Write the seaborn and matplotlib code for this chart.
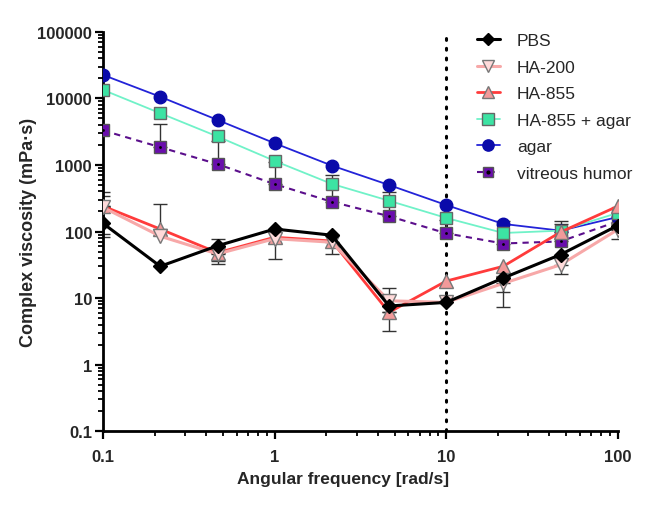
import numpy as np
import pandas as pd
import matplotlib
matplotlib.use("Agg")
import matplotlib.pyplot as plt
import seaborn as sns
from matplotlib.lines import Line2D
from matplotlib.ticker import FixedLocator, FixedFormatter, LogLocator, NullFormatter

nan = np.nan

# ---- data ----
freq = [0.1, 0.215, 0.464, 1, 2.15, 4.64, 10, 21.5, 46.4, 100]

pbs = [132, 30, 61, 109, 88, 7.6, 8.6, 20, 45, 123]
ha200 = [230, 85, 46, 78, 69, 9.1, 8.6, 16.6, 31.6, 107]
ha855 = [240, 109, 48, 82, 72, 6.1, 18, 30, 98, 240]
ha855_agar = [13400, 6000, 2680, 1150, 520, 290, 160, 95, 103, 190]
agar = [22500, 10600, 4750, 2120, 980, 500, 250, 130, 103, 165]
vitreous = [3300, 1850, 1030, 515, 280, 170, 94, 66, 71, 142]

# error bar ends (absolute values), nan = not shown
pbs_lo = [nan, nan, nan, nan, nan, nan, nan, 12.3, nan, nan]
pbs_hi = [nan] * 10
ha200_lo = [83, nan, 32, 39, 46, nan, nan, 7.3, 23, 77]
ha200_hi = [345, nan, nan, nan, nan, nan, nan, nan, nan, nan]
ha855_lo = [92, nan, 36, nan, nan, 3.2, nan, nan, nan, nan]
ha855_hi = [390, 260, 77, nan, nan, 14.1, nan, nan, 130, nan]
vit_lo = [nan] * 10
vit_hi = [nan, 4150, 2330, 1100, 700, 390, 150, 145, 145, nan]

labels = ["PBS", "HA-200", "HA-855", "HA-855 + agar", "agar", "vitreous humor"]
y_ticks = [0.1, 1, 10, 100, 1000, 10000, 100000]
y_ticklabels = ["0.1", "1", "10", "100", "1000", "10000", "100000"]
x_ticks = [0.1, 1, 10, 100]
x_ticklabels = ["0.1", "1", "10", "100"]

# ---- style ----
sns.set_style("ticks")
plt.rcParams["font.family"] = ["Liberation Sans", "DejaVu Sans"]

fig = plt.figure(figsize=(6.7, 5.06), dpi=100)
ax = fig.add_axes([0.154, 0.146, 0.768, 0.789])

ax.set_xscale("log")
ax.set_yscale("log")

styles = {
    "vitreous humor": dict(color="#5B0F8C", lw=1.5, ls=(0, (3, 2.5)), marker="s",
                           mfc="#6A0DAD", mec="#555555", ms=8.5),
    "agar": dict(color="#2323D8", lw=1.3, ls="-", marker="o", mfc="#0A0AAA",
                 mec="#0A0AAA", ms=9),
    "HA-855 + agar": dict(color="#70F2C8", lw=1.3, ls="-", marker="s",
                          mfc="#3CE3A3", mec="#666666", ms=9),
    "HA-855": dict(color="#FF3B3B", lw=2.0, ls="-", marker="^", mfc="#F29A9A",
                   mec="#777777", ms=10),
    "HA-200": dict(color="#F7A8A8", lw=2.2, ls="-", marker="v", mfc="#FFDADA",
                   mec="#777777", ms=10),
    "PBS": dict(color="black", lw=2.2, ls="-", marker="D", mfc="black",
                mec="black", ms=7),
}
series = {
    "PBS": (pbs, pbs_lo, pbs_hi),
    "HA-200": (ha200, ha200_lo, ha200_hi),
    "HA-855": (ha855, ha855_lo, ha855_hi),
    "HA-855 + agar": (ha855_agar, [nan] * 10, [nan] * 10),
    "agar": (agar, [nan] * 10, [nan] * 10),
    "vitreous humor": (vitreous, vit_lo, vit_hi),
}

# error bars
for name, (vals, lo, hi) in series.items():
    for f, v, l, h in zip(freq, vals, lo, hi):
        if not np.isnan(l):
            ax.errorbar([f], [v], yerr=[[v - l], [0]], fmt="none", ecolor="#333333",
                        elinewidth=1.0, capsize=5, capthick=1.0, zorder=2)
        if not np.isnan(h):
            ax.errorbar([f], [v], yerr=[[0], [h - v]], fmt="none", ecolor="#333333",
                        elinewidth=1.0, capsize=5, capthick=1.0, zorder=2)

order = ["vitreous humor", "agar", "HA-855 + agar", "HA-855", "HA-200", "PBS"]
for i, name in enumerate(order):
    st = styles[name]
    df = pd.DataFrame({"freq": freq, "val": series[name][0]})
    sns.lineplot(data=df, x="freq", y="val", ax=ax, estimator=None, sort=False,
                 color=st["color"], linewidth=st["lw"], linestyle=st["ls"],
                 marker=st["marker"], markerfacecolor=st["mfc"],
                 markeredgecolor=st["mec"], markersize=st["ms"],
                 markeredgewidth=1.0, zorder=3 + i)
    if name == "vitreous humor":
        sns.scatterplot(data=df, x="freq", y="val", ax=ax, color="black", s=4,
                        linewidth=0, zorder=3.5)

# vertical dotted line at 10 rad/s
ax.axvline(10, color="black", lw=2.2, ls=(0, (0.6, 2.6)),
           dash_capstyle="round", zorder=1)

ax.set_xlim(0.1, 100)
ax.set_ylim(0.1, 100000)
ax.yaxis.set_major_locator(FixedLocator(y_ticks))
ax.yaxis.set_major_formatter(FixedFormatter(y_ticklabels))
ax.xaxis.set_major_locator(FixedLocator(x_ticks))
ax.xaxis.set_major_formatter(FixedFormatter(x_ticklabels))
ax.yaxis.set_minor_locator(LogLocator(base=10, subs=np.arange(2, 10), numticks=20))
ax.xaxis.set_minor_locator(LogLocator(base=10, subs=np.arange(2, 10), numticks=20))
ax.yaxis.set_minor_formatter(NullFormatter())
ax.xaxis.set_minor_formatter(NullFormatter())

for s in ["top", "right"]:
    ax.spines[s].set_visible(False)
for s in ["left", "bottom"]:
    ax.spines[s].set_linewidth(2)
    ax.spines[s].set_color("black")
ax.tick_params(which="major", length=6, width=1.6, color="black", labelsize=12)
ax.tick_params(axis="x", which="major", pad=7)
ax.tick_params(axis="y", which="major", pad=2)
ax.tick_params(which="minor", length=3.5, width=1.3, color="black")
for lab in ax.get_xticklabels() + ax.get_yticklabels():
    lab.set_fontweight("bold")

ax.set_xlabel("Angular frequency [rad/s]", fontsize=12.5, fontweight="bold")
ax.set_ylabel("Complex viscosity (mPa·s)", fontsize=13, fontweight="bold")
ax.xaxis.set_label_coords(0.466, -0.10)
ax.yaxis.set_label_coords(-0.128, 0.5)
ax.set_facecolor("white")
fig.patch.set_facecolor("white")

# legend
handles = []
for name in labels:
    st = styles[name]
    h = Line2D([], [], color=st["color"], lw=st["lw"], ls=st["ls"],
               marker=st["marker"], mfc=st["mfc"], mec=st["mec"],
               ms=st["ms"] * 0.9, mew=1.0)
    if name == "vitreous humor":
        dot = Line2D([], [], ls="none", marker="o", ms=2, mfc="black", mec="black")
        h = (h, dot)
    handles.append(h)
fig.legend(handles, labels, loc="upper left", bbox_to_anchor=(0.712, 0.933),
           frameon=False, fontsize=12.5, handlelength=1.3, handletextpad=1.0,
           labelspacing=0.66, borderpad=0, borderaxespad=0)

fig.savefig("out.png", dpi=100)
